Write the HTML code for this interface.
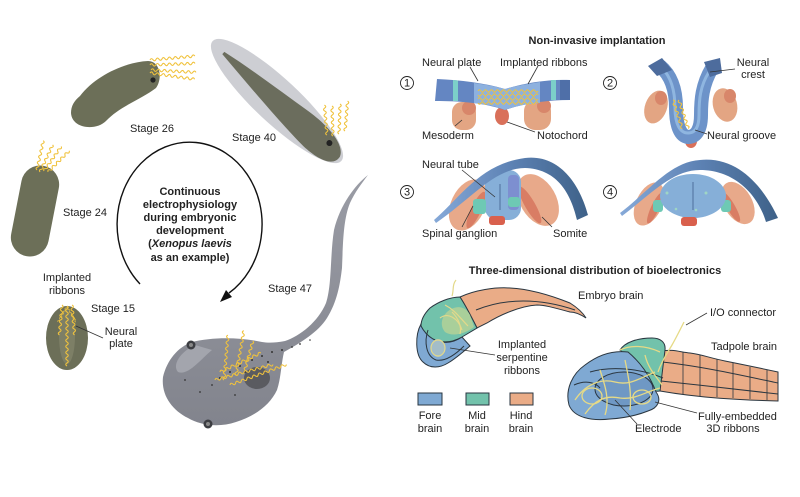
<!DOCTYPE html>
<html><head><meta charset="utf-8"><style>
html,body{margin:0;padding:0;background:#fff;}
svg{display:block;}
text{font-family:"Liberation Sans",Arial,sans-serif;fill:#222;font-size:11px;}
.b{font-weight:bold;}
</style></head><body>
<svg width="800" height="497" viewBox="0 0 800 497" xmlns="http://www.w3.org/2000/svg">
<defs>
<path id="w30" d="M0,0q1.5,-2.5 3,0t3,0t3,0t3,0t3,0t3,0t3,0t3,0t3,0t3,0" fill="none" stroke="#f0c23c" stroke-width="1.1"/>
<path id="w45" d="M0,0q1.5,-2.5 3,0t3,0t3,0t3,0t3,0t3,0t3,0t3,0t3,0t3,0t3,0t3,0t3,0t3,0t3,0" fill="none" stroke="#f0c23c" stroke-width="1.1"/>
<path id="w60" d="M0,0q1.5,-2.5 3,0t3,0t3,0t3,0t3,0t3,0t3,0t3,0t3,0t3,0t3,0t3,0t3,0t3,0t3,0t3,0t3,0t3,0t3,0t3,0" fill="none" stroke="#f0c23c" stroke-width="1.1"/>
<linearGradient id="arch" x1="0" y1="0" x2="1" y2="0"><stop offset="0" stop-color="#86a9d8"/><stop offset="0.5" stop-color="#5d82b4"/><stop offset="1" stop-color="#3e6188"/></linearGradient>
<linearGradient id="tad" x1="0" y1="0" x2="0" y2="1"><stop offset="0" stop-color="#9a9ca5"/><stop offset="1" stop-color="#82848d"/></linearGradient>
</defs>

<!-- ===== LEFT: Stage 26 ===== -->
<path d="M80,96 C95,76 125,62 148,61 C160,61 163,78 156,88 C142,99 120,106 106,121 C96,131 72,129 71,113 C71,106 74,101 80,96 Z" fill="#6c6f58"/>
<circle cx="153" cy="80" r="2.6" fill="#222"/>
<use href="#w45" transform="translate(150,60) rotate(-5)"/>
<use href="#w45" transform="translate(150,65) rotate(-2)"/>
<use href="#w45" transform="translate(151,70) rotate(3)"/>
<use href="#w45" transform="translate(150,73) rotate(8)"/>
<text x="130" y="132">Stage 26</text>

<!-- Stage 40 -->
<g transform="translate(277,101) rotate(43)">
<ellipse cx="0" cy="0" rx="88" ry="22" fill="#cdced3"/>
<path d="M-72,0 C-40,-6 0,-10 30,-14 C55,-17 80,-14 84,-2 C86,10 70,15 50,15 C20,14 -30,8 -72,3 Z" fill="#6b6d5d"/>
<circle cx="67" cy="-5" r="3" fill="#222"/>
</g>
<use href="#w30" transform="translate(327,135) rotate(-95)"/>
<use href="#w30" transform="translate(333,136) rotate(-92)"/>
<use href="#w30" transform="translate(339,134) rotate(-88)"/>
<use href="#w30" transform="translate(345,131) rotate(-85)"/>
<text x="232" y="141">Stage 40</text>

<!-- Stage 24 -->
<rect x="16" y="165" width="38" height="92" rx="19" transform="rotate(11 35 211)" fill="#6c6f58"/>
<use href="#w30" transform="translate(40,172) rotate(-65)"/>
<use href="#w30" transform="translate(44,171) rotate(-55)"/>
<use href="#w30" transform="translate(48,172) rotate(-45)"/>
<use href="#w30" transform="translate(37,170) rotate(-78)"/>
<text x="63" y="216">Stage 24</text>

<!-- Cycle arrow -->
<path d="M140,284 A72.5 82 0 1 1 229,293" fill="none" stroke="#111" stroke-width="1.4"/>
<polygon points="220,302 232,297 226,290" fill="#111"/>
<text class="b" text-anchor="middle" x="190" y="195">Continuous</text>
<text class="b" text-anchor="middle" x="190" y="208">electrophysiology</text>
<text class="b" text-anchor="middle" x="190" y="221">during embryonic</text>
<text class="b" text-anchor="middle" x="190" y="234">development</text>
<text class="b" text-anchor="middle" x="190" y="247">(<tspan font-style="italic">Xenopus laevis</tspan></text>
<text class="b" text-anchor="middle" x="190" y="261">as an example)</text>

<!-- Stage 15 -->
<ellipse cx="67" cy="338" rx="21" ry="32" fill="#6c6f58"/>
<ellipse cx="67" cy="336" rx="8" ry="28" fill="#7d7f66"/>
<use href="#w60" transform="translate(67,306) rotate(90)"/>
<use href="#w30" transform="translate(62,305) rotate(95)"/>
<use href="#w30" transform="translate(72,305) rotate(85)"/>
<use href="#w30" transform="translate(58,322) rotate(-60) scale(0.6)"/>
<use href="#w30" transform="translate(76,322) rotate(-120) scale(0.6)"/>
<line x1="76" y1="326" x2="103" y2="338" stroke="#333" stroke-width="0.8"/>
<text text-anchor="middle" x="67" y="281">Implanted</text>
<text text-anchor="middle" x="67" y="294">ribbons</text>
<text x="91" y="312">Stage 15</text>
<text text-anchor="middle" x="121" y="335">Neural</text>
<text text-anchor="middle" x="121" y="347">plate</text>

<!-- Stage 47 tadpole -->
<path d="M368,175 C355,185 340,205 334,230 C330,255 332,285 326,303 C318,322 300,336 285,341 C275,343 268,343 262,342 C240,337 212,337 192,342 C178,347 167,360 163,377 C161,395 172,410 188,418 C200,425 218,428 236,422 C255,416 270,405 277,390 C281,378 281,365 284,352 C302,342 318,332 327,318 C337,302 340,285 342,268 C343,245 343,220 350,203 C355,192 362,183 368,175 Z" fill="url(#tad)"/>
<path d="M195,345 C180,352 172,365 178,372 C188,376 200,360 212,350 Z" fill="#a3a5ad"/>
<ellipse cx="257" cy="378" rx="13" ry="11" fill="#5a5b60"/>
<circle cx="191" cy="345" r="4.5" fill="#3c3d42"/><circle cx="191" cy="345" r="2" fill="#888"/>
<circle cx="208" cy="424" r="4.5" fill="#3c3d42"/><circle cx="208" cy="424" r="2" fill="#888"/>
<g fill="#333">
<circle cx="230" cy="372" r="1"/><circle cx="240" cy="366" r="1"/><circle cx="252" cy="360" r="1"/><circle cx="262" cy="356" r="1"/>
<circle cx="272" cy="352" r="1"/><circle cx="282" cy="350" r="1"/><circle cx="292" cy="347" r="0.9"/><circle cx="300" cy="344" r="0.9"/>
<circle cx="245" cy="372" r="1"/><circle cx="220" cy="378" r="1"/><circle cx="212" cy="385" r="0.9"/><circle cx="200" cy="392" r="0.9"/>
<circle cx="185" cy="380" r="0.9"/><circle cx="235" cy="395" r="0.9"/><circle cx="310" cy="340" r="0.8"/><circle cx="268" cy="362" r="1"/>
</g>
<use href="#w45" transform="translate(224,380) rotate(-85)"/>
<use href="#w45" transform="translate(236,375) rotate(-80)"/>
<use href="#w30" transform="translate(245,370) rotate(-75)"/>
<use href="#w60" transform="translate(230,385) rotate(-20)"/>
<use href="#w60" transform="translate(215,380) rotate(-15)"/>
<use href="#w45" transform="translate(220,372) rotate(-25)"/>
<text x="268" y="292">Stage 47</text>

<!-- ===== RIGHT TOP: Non-invasive implantation ===== -->
<text class="b" text-anchor="middle" x="597" y="44">Non-invasive implantation</text>

<g fill="none" stroke="#222" stroke-width="0.9">
<circle cx="407" cy="83" r="6.5"/><circle cx="610" cy="83" r="6.5"/><circle cx="407" cy="192" r="6.5"/><circle cx="610" cy="192" r="6.5"/>
</g>
<text x="407" y="86.5" font-size="9" text-anchor="middle">1</text>
<text x="610" y="86.5" font-size="9" text-anchor="middle">2</text>
<text x="407" y="195.5" font-size="9" text-anchor="middle">3</text>
<text x="610" y="195.5" font-size="9" text-anchor="middle">4</text>

<!-- Panel 1 -->
<rect x="452" y="102" width="24" height="28" rx="10" fill="#e3a583"/>
<ellipse cx="469" cy="108" rx="7" ry="7" fill="#d8866a"/>
<rect x="524" y="100" width="27" height="30" rx="11" fill="#e3a583"/>
<ellipse cx="544" cy="106" rx="7" ry="7" fill="#d8866a"/>
<ellipse cx="502" cy="116" rx="7" ry="9" fill="#d9705a"/>
<path d="M437,79 C460,80 485,83 505,89 C525,83 548,79 570,80 L570,100 C548,100 525,103 505,110 C485,103 460,101 435,101 Z" fill="#6486c2"/>
<path d="M474,83 C488,85 498,87 505,89 C515,86 528,84 540,82 L540,103 C528,104 515,106 505,110 C495,106 485,104 474,103 Z" fill="#8db1df"/>
<path d="M453,80 L458,80.5 L458,101 L453,101 Z" fill="#7ccfc9"/>
<path d="M551,80 L556,80 L556,100 L551,100 Z" fill="#7ccfc9"/>
<path d="M560,80 L570,80 L570,100 L560,100 Z" fill="#4f6fa8"/>
<use href="#w60" transform="translate(478,91)"/>
<use href="#w60" transform="translate(478,95) scale(1,-1)"/>
<use href="#w60" transform="translate(478,99)"/>
<use href="#w60" transform="translate(478,103) scale(1,-1)"/>
<g stroke="#333" stroke-width="0.8">
<line x1="470" y1="67" x2="478" y2="81"/>
<line x1="538" y1="66" x2="528" y2="84"/>
<line x1="455" y1="126" x2="462" y2="120"/>
<line x1="507" y1="122" x2="535" y2="132"/>
</g>
<text x="422" y="66">Neural plate</text>
<text x="500" y="66">Implanted ribbons</text>
<text x="422" y="139">Mesoderm</text>
<text x="537" y="139">Notochord</text>

<!-- Panel 2 -->
<ellipse cx="656" cy="107" rx="11" ry="17" transform="rotate(20 656 107)" fill="#e3a583"/>
<ellipse cx="661" cy="98" rx="6" ry="7" fill="#d8866a"/>
<ellipse cx="725" cy="105" rx="12" ry="17" transform="rotate(-15 725 105)" fill="#e3a583"/>
<ellipse cx="730" cy="96" rx="6" ry="7" fill="#d8866a"/>
<ellipse cx="691" cy="141" rx="6" ry="7" fill="#d9705a"/>
<path d="M660,66 C672,76 676,92 676,108 C676,125 680,136 688,137 C697,137 701,128 701,115 C701,100 702,85 712,68" fill="none" stroke="#6d93c9" stroke-width="14"/>
<path d="M662,68 C672,78 675,92 675,108 C675,124 680,133 688,133 C696,133 699,126 699,115 C699,100 700,86 709,72" fill="none" stroke="#8fb6e0" stroke-width="3"/>
<path d="M648,66 L662,58 L672,70 L657,76 Z" fill="#4d6c9d"/>
<path d="M704,62 L720,58 L722,73 L710,77 Z" fill="#4d6c9d"/>
<use href="#w30" transform="translate(673,100) rotate(72)"/>
<use href="#w30" transform="translate(679,100) rotate(72) scale(1,-1)"/>
<g stroke="#333" stroke-width="0.8">
<line x1="735" y1="69" x2="710" y2="72"/>
<line x1="695" y1="130" x2="707" y2="134"/>
</g>
<text text-anchor="middle" x="753" y="66">Neural</text>
<text text-anchor="middle" x="753" y="78">crest</text>
<text x="707" y="139">Neural groove</text>

<!-- Panel 3 -->
<ellipse cx="468" cy="205" rx="17" ry="27" transform="rotate(25 468 205)" fill="#e8a98a"/>
<ellipse cx="476" cy="210" rx="5" ry="20" transform="rotate(25 476 210)" fill="#d97d64"/>
<ellipse cx="538" cy="200" rx="18" ry="28" transform="rotate(-30 538 200)" fill="#e8a98a"/>
<ellipse cx="530" cy="205" rx="5" ry="21" transform="rotate(-30 530 205)" fill="#d97d64"/>
<rect x="485" y="170" width="36" height="50" rx="12" fill="#86afd8"/>
<rect x="508" y="175" width="11" height="35" rx="4" fill="#7d8fd0"/>
<line x1="500" y1="184" x2="500" y2="210" stroke="#4f6f9c" stroke-width="1"/>
<rect x="473" y="199" width="13" height="15" rx="3" fill="#6ec9b4"/>
<rect x="508" y="197" width="12" height="10" rx="3" fill="#6ec9b4"/>
<rect x="489" y="216" width="16" height="9" rx="3" fill="#d9604d"/>
<path d="M434,220 C460,198 480,164 525,158 C560,154 580,185 588,215 L577,220 C570,190 555,169 525,168 C495,168 472,198 436,223 Z" fill="url(#arch)"/>
<g stroke="#333" stroke-width="0.8">
<line x1="462" y1="170" x2="495" y2="197"/>
<line x1="462" y1="227" x2="473" y2="206"/>
<line x1="552" y1="227" x2="542" y2="217"/>
</g>
<text x="422" y="168">Neural tube</text>
<text x="422" y="237">Spinal ganglion</text>
<text x="553" y="237">Somite</text>

<!-- Panel 4 -->
<ellipse cx="649" cy="204" rx="13" ry="23" transform="rotate(25 649 204)" fill="#e8a98a"/>
<ellipse cx="655" cy="208" rx="4" ry="17" transform="rotate(25 655 208)" fill="#d97d64"/>
<ellipse cx="738" cy="203" rx="14" ry="23" transform="rotate(-30 738 203)" fill="#e8a98a"/>
<ellipse cx="731" cy="207" rx="4" ry="17" transform="rotate(-30 731 207)" fill="#d97d64"/>
<rect x="653" y="200" width="10" height="12" rx="3" fill="#6ec9b4"/>
<rect x="721" y="200" width="10" height="12" rx="3" fill="#6ec9b4"/>
<ellipse cx="693" cy="196" rx="33" ry="22" fill="#86afd8"/>
<line x1="693" y1="182" x2="693" y2="210" stroke="#4f6f9c" stroke-width="1"/>
<g fill="#9fd6c4"><circle cx="667" cy="193" r="1.5"/><circle cx="706" cy="193" r="1.5"/><circle cx="676" cy="209" r="1.3"/><circle cx="696" cy="210" r="1.3"/></g>
<rect x="681" y="217" width="16" height="9" rx="3" fill="#d9604d"/>
<path d="M620,213 C650,190 670,162 700,160 C740,156 765,190 778,218 L766,222 C758,195 735,170 700,170 C672,170 650,195 622,216 Z" fill="url(#arch)"/>

<!-- ===== RIGHT BOTTOM ===== -->
<text class="b" text-anchor="middle" x="595" y="274">Three-dimensional distribution of bioelectronics</text>

<!-- Embryo brain -->
<g stroke="#2a3640" stroke-width="1">
<path d="M460,297 C475,290 495,287 510,288 C530,289 550,295 570,303 C578,308 583,313 586,318 C580,314 575,312 570,312 C555,308 545,305 537,305 C520,306 500,315 487,323 L477,328 C472,318 466,306 460,297 Z" fill="#eaac87"/>
<path d="M421,324 C415,335 415,355 423,362 C430,369 440,368 448,363 C455,359 462,353 470,346 L462,337 C452,344 440,344 432,338 C426,334 423,330 421,324 Z" fill="#7fa9d3"/>
<path d="M460,297 C450,297 438,302 430,308 C424,314 421,320 421,326 C424,332 428,336 433,339 C443,344 453,342 462,337 L477,328 C472,318 466,306 460,297 Z" fill="#72c2ab"/>
<path d="M476,310 C505,298 540,298 575,310" fill="none"/>
<path d="M428,330 C424,342 426,356 436,360 C446,362 456,354 464,346" fill="none"/>
</g>
<path d="M447,312 C455,305 465,305 470,315 L474,327 C465,334 452,337 445,332 C440,326 441,318 447,312 Z" fill="#a9cf9a"/>
<ellipse cx="438" cy="348" rx="7" ry="9" fill="#a3bdc8"/>
<g fill="none" stroke="#e3d98a" stroke-width="1.2">
<path d="M445,305 C455,310 460,318 468,326"/>
<path d="M440,318 C448,312 458,318 462,330"/>
<ellipse cx="438" cy="348" rx="7" ry="8"/>
<path d="M452,312 C458,318 462,326 460,334"/>
<path d="M452,296 C454,290 452,285 456,280"/>
</g>
<line x1="450" y1="348" x2="495" y2="355" stroke="#333" stroke-width="0.8"/>
<text x="578" y="299">Embryo brain</text>
<text text-anchor="middle" x="522" y="348">Implanted</text>
<text text-anchor="middle" x="522" y="361">serpentine</text>
<text text-anchor="middle" x="522" y="374">ribbons</text>

<!-- Legend -->
<g stroke="#2a3640" stroke-width="1">
<rect x="418" y="393" width="24" height="12" fill="#7fa9d3"/>
<rect x="466" y="393" width="23" height="12" fill="#72c2ab"/>
<rect x="510" y="393" width="23" height="12" fill="#eaac87"/>
</g>
<text text-anchor="middle" x="430" y="419">Fore</text><text text-anchor="middle" x="430" y="432">brain</text>
<text text-anchor="middle" x="477" y="419">Mid</text><text text-anchor="middle" x="477" y="432">brain</text>
<text text-anchor="middle" x="521" y="419">Hind</text><text text-anchor="middle" x="521" y="432">brain</text>

<!-- Tadpole brain -->
<g stroke="#2a3640" stroke-width="1">
<path d="M662,351 C672,349 680,352 690,353 C700,354 710,358 725,361 C740,364 755,367 778,372 L778,401 C740,400 700,398 660,391 Z" fill="#eaac87"/>
<path d="M662,362 C700,366 740,375 778,383" fill="none"/>
<path d="M661,381 C700,385 740,390 778,394" fill="none"/>
<g fill="none" stroke-width="0.8">
<line x1="683" y1="352" x2="683" y2="394"/><line x1="700" y1="355" x2="700" y2="396"/>
<line x1="717" y1="359" x2="717" y2="397"/><line x1="733" y1="363" x2="733" y2="398"/>
<line x1="750" y1="367" x2="750" y2="399"/><line x1="767" y1="370" x2="767" y2="400"/>
</g>
<path d="M620,350 C625,342 638,338 652,338 C660,338 666,342 665,350 L660,391 C654,392 648,389 644,384 C635,368 628,356 620,350 Z" fill="#72c2ab"/>
<path d="M585,365 C598,355 612,350 628,352 C640,362 650,376 656,392 C662,400 658,408 648,411 C638,415 625,418 610,419 C592,421 574,418 569,405 C565,390 572,374 585,365 Z" fill="#7fa9d3"/>
<ellipse cx="624" cy="389" rx="29" ry="17" fill="#6f98c4"/>
<path d="M590,372 C610,366 640,368 663,378" fill="none"/>
<path d="M574,385 C585,380 595,382 600,388" fill="none"/>
</g>
<g fill="none" stroke="#e6da86" stroke-width="1.3">
<path d="M575,400 C585,385 600,378 615,382 C630,386 640,378 655,372"/>
<path d="M585,414 C595,400 605,395 620,398 C635,400 645,392 660,388"/>
<path d="M600,370 C605,385 610,400 605,415"/>
<path d="M625,360 C628,375 632,392 630,410"/>
<path d="M645,355 C648,368 655,375 662,385"/>
<ellipse cx="592" cy="396" rx="10" ry="8"/>
<ellipse cx="642" cy="397" rx="9" ry="7"/>
<path d="M620,350 C630,345 645,345 660,352"/>
<path d="M658,372 C662,360 668,352 672,345 C676,338 680,330 684,322"/>
</g>
<g stroke="#333" stroke-width="0.8">
<line x1="686" y1="325" x2="707" y2="313"/>
<line x1="655" y1="402" x2="697" y2="413"/>
<line x1="615" y1="400" x2="637" y2="424"/>
</g>
<text x="710" y="316">I/O connector</text>
<text x="711" y="350">Tadpole brain</text>
<text x="698" y="420">Fully-embedded</text>
<text text-anchor="middle" x="733" y="432">3D ribbons</text>
<text x="635" y="432">Electrode</text>
</svg>
</body></html>
